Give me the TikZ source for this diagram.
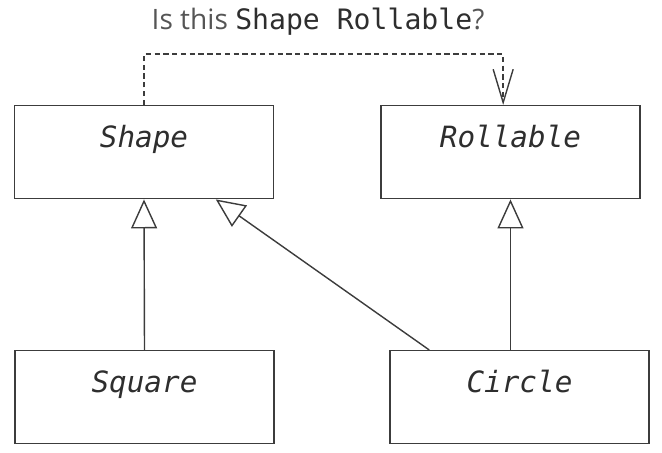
\documentclass[tikz,border=0pt]{standalone}
\usepackage{fontspec}
\setmainfont{Open Sans}
\newfontfamily\codefont{DejaVu Sans Mono}
\usepackage{xcolor}
\usepackage{tikz}
\usetikzlibrary{arrows.meta,positioning}
\definecolor{ink}{HTML}{2E2E2E}
\definecolor{line}{HTML}{3C3C3C}
\definecolor{soft}{HTML}{555555}
\tikzset{
  cls/.style={draw=line, line width=1.2pt, minimum width=7.77cm, inner xsep=0pt, inner ysep=0pt,
    text height=1.26cm, text depth=1.53cm, text=ink, font=\codefont\itshape\fontsize{25}{30}\selectfont},
  isa/.style={draw=line, line width=1.2pt, -{Triangle[open, length=0.87cm, width=0.78cm, fill=white]}},
  dep/.style={draw=line, line width=1.2pt, dash pattern=on 4.5pt off 3pt,
    -{Straight Barb[length=1.0cm, width=0.6cm, line width=1.2pt]}},
  note/.style={text=soft, font=\fontsize{24}{29}\selectfont},
}
\begin{document}
\begin{tikzpicture}[x=0.03cm, y=-0.03cm]
\useasboundingbox (0,0) rectangle (662,453);
\node[note] (ask) at (318,22) {Is this {\codefont\color{ink}Shape Rollable}?};
\node[cls, anchor=north] (Shape) at (144,105) {Shape};
\node[cls, anchor=north] (Rollable) at (510.5,105) {Rollable};
\node[cls, anchor=north] (Square) at (144.5,350) {Square};
\node[cls, anchor=north] (Circle) at (519.5,350) {Circle};
\draw[isa] (Square.north) -- (Shape.south);
\draw[isa] ([xshift=1.2cm]Circle.north west) -- ([xshift=6.06cm]Shape.south west);
\draw[isa] (Rollable.south |- Circle.north) -- (Rollable.south);
\draw[dep] (Shape.north) -- ++(0,-51) -| ([xshift=-0.22cm]Rollable.north);
\end{tikzpicture}
\end{document}
